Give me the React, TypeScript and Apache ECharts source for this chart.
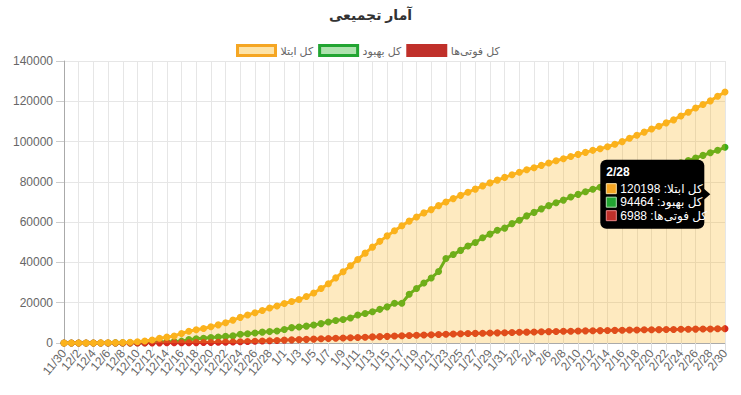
import React, { useEffect, useRef } from "react";
import * as echarts from "echarts";

const categories = [
  "11/30",
  "12/1", "12/2", "12/3", "12/4", "12/5", "12/6", "12/7", "12/8", "12/9", "12/10",
  "12/11", "12/12", "12/13", "12/14", "12/15", "12/16", "12/17", "12/18", "12/19", "12/20",
  "12/21", "12/22", "12/23", "12/24", "12/25", "12/26", "12/27", "12/28", "12/29",
  "1/1", "1/2", "1/3", "1/4", "1/5", "1/6", "1/7", "1/8", "1/9", "1/10",
  "1/11", "1/12", "1/13", "1/14", "1/15", "1/16", "1/17", "1/18", "1/19", "1/20",
  "1/21", "1/22", "1/23", "1/24", "1/25", "1/26", "1/27", "1/28", "1/29", "1/30", "1/31",
  "2/1", "2/2", "2/3", "2/4", "2/5", "2/6", "2/7", "2/8", "2/9", "2/10",
  "2/11", "2/12", "2/13", "2/14", "2/15", "2/16", "2/17", "2/18", "2/19", "2/20",
  "2/21", "2/22", "2/23", "2/24", "2/25", "2/26", "2/27", "2/28", "2/29", "2/30",
];

const seriesNames = ["کل ابتلا", "کل بهبود", "کل فوتی\u200cها"];

const totalCases = [
  2, 5, 18, 28, 43, 61, 95, 139, 245, 388, 593,
  978, 1501, 2336, 2922, 3513, 4747, 5823, 6566, 7161, 8042,
  9000, 10075, 11364, 12729, 13938, 14991, 16169, 17361, 18407,
  19644, 20610, 21638, 23049, 24811, 27017, 29406, 32332, 35408, 38309,
  41495, 44605, 47593, 50468, 53183, 55743, 58226, 60500, 62589, 64586,
  66220, 68192, 70029, 71686, 73303, 74877, 76389, 77995, 79494, 80868, 82211,
  83505, 84802, 85996, 87026, 88194, 89328, 90481, 91472, 92584, 93657,
  94640, 95646, 96448, 97424, 98647, 99970, 101650, 103135, 104691, 106220,
  107603, 109286, 110767, 112725, 114533, 116635, 118392, 120198, 122492, 124603,
];

const totalRecovered = [
  0, 0, 0, 0, 0, 0, 0, 49, 49, 73, 123,
  175, 291, 435, 552, 739, 913, 1669, 2134, 2394, 2731,
  2959, 3276, 3529, 4339, 4590, 4996, 5389, 5710, 5979,
  6745, 7635, 7931, 8376, 8913, 9625, 10457, 11133, 11679, 12391,
  13911, 14656, 15473, 16711, 17935, 19736, 19736, 24236, 27039, 29812,
  32309, 35465, 41947, 43894, 45983, 48129, 49933, 52229, 54064, 55987, 57023,
  59273, 60965, 63113, 64843, 66599, 68193, 69657, 70933, 72439, 73791,
  75103, 76318, 77350, 78422, 79379, 80475, 81587, 82744, 83837, 85064,
  86143, 87422, 88357, 89428, 90539, 91836, 93147, 94464, 95661, 97173,
];

const totalDeaths = [
  2, 2, 4, 5, 8, 12, 16, 19, 26, 34, 43,
  54, 66, 77, 92, 107, 124, 145, 194, 237, 291,
  354, 429, 514, 611, 724, 853, 988, 1135, 1284,
  1433, 1556, 1685, 1812, 1934, 2077, 2234, 2378, 2517, 2640,
  2757, 2898, 3036, 3160, 3294, 3452, 3603, 3739, 3872, 3993,
  4110, 4232, 4357, 4474, 4585, 4683, 4777, 4869, 4958, 5031, 5118,
  5209, 5297, 5391, 5481, 5574, 5650, 5710, 5806, 5877, 5957,
  6028, 6091, 6156, 6203, 6277, 6340, 6418, 6486, 6541, 6589,
  6640, 6685, 6733, 6783, 6854, 6902, 6937, 6988, 7057, 7119,
];

const yTicks = { min: 0, max: 140000, interval: 20000 };
const tooltipIndex = 88;

const FONT = "'Liberation Sans', Arial, 'DejaVu Sans', sans-serif";

export default function App() {
  const ref = useRef<HTMLDivElement>(null);

  useEffect(() => {
    document.body.style.margin = "0";
    if (!ref.current) return;
    const chart = echarts.init(ref.current, null, { renderer: "svg" });
    const option: any = {
      animation: false,
      backgroundColor: "#ffffff",
      title: {
        text: "آمار تجمیعی",
        left: "center",
        top: 3,
        textStyle: { fontFamily: FONT, fontSize: 14, fontWeight: "bold", color: "#333" },
      },
      legend: {
        top: 39,
        left: 231,
        icon: "rect",
        itemWidth: 38,
        itemHeight: 10,
        itemGap: 5,
        textStyle: { fontFamily: FONT, fontSize: 11, color: "#666" },
        data: [
          { name: seriesNames[0], itemStyle: { color: "#fde3a7", borderColor: "#f5a623", borderWidth: 3 } },
          { name: seriesNames[1], itemStyle: { color: "#aee2ae", borderColor: "#22a532", borderWidth: 3 } },
          { name: seriesNames[2], itemStyle: { color: "#c0302a", borderColor: "#c0302a", borderWidth: 3 } },
        ],
      },
      grid: { left: 64, right: 16, top: 61, bottom: 52 },
      xAxis: {
        type: "category",
        boundaryGap: false,
        data: categories,
        axisLine: { lineStyle: { color: "#aaa" } },
        axisTick: { show: true, interval: 1, length: 8, lineStyle: { color: "#ddd" } },
        axisLabel: {
          interval: 0,
          rotate: 50,
          color: "#666",
          fontSize: 12,
          lineHeight: 10,
          fontFamily: FONT,
          margin: 8,
          showMinLabel: true,
          showMaxLabel: true,
          formatter: (v: string, i: number) => (i % 2 === 0 ? v : ""),
        },
        splitLine: { show: true, interval: 1, lineStyle: { color: "#e6e6e6" } },
      },
      yAxis: {
        type: "value",
        min: yTicks.min,
        max: yTicks.max,
        interval: yTicks.interval,
        axisLine: { show: true, lineStyle: { color: "#aaa" } },
        axisTick: { show: true, length: 8, lineStyle: { color: "#ccc" } },
        axisLabel: {
          color: "#666",
          fontSize: 12,
          fontFamily: FONT,
          margin: 11,
          formatter: (v: number) => String(v),
        },
        splitLine: { lineStyle: { color: "#e6e6e6" } },
      },
      series: [
        {
          name: seriesNames[1],
          type: "line",
          data: totalRecovered,
          z: 2,
          symbol: "circle",
          symbolSize: 7,
          lineStyle: { width: 3, color: "#3cae1c" },
          itemStyle: { color: "#3cae1c" },
        },
        {
          name: seriesNames[2],
          type: "line",
          data: totalDeaths,
          z: 2,
          symbol: "circle",
          symbolSize: 7,
          lineStyle: { width: 3, color: "#d62a1f" },
          itemStyle: { color: "#d62a1f" },
        },
        {
          name: seriesNames[0],
          type: "line",
          data: totalCases,
          z: 3,
          symbol: "circle",
          symbolSize: 7,
          lineStyle: { width: 3, color: "#fbb21c" },
          itemStyle: { color: "#fbb21c" },
          areaStyle: { color: "rgba(253,178,20,0.38)", origin: "start" },
        },
      ],
    };
    chart.setOption(option);

    const avg = (totalCases[tooltipIndex] + totalRecovered[tooltipIndex] + totalDeaths[tooltipIndex]) / 3;
    const pt = chart.convertToPixel({ xAxisIndex: 0, yAxisIndex: 0 }, [tooltipIndex, avg]) as number[];
    if (pt) {
      const w = 104;
      const h = 69;
      const tipX = pt[0];
      const cy = pt[1];
      const bx = tipX - 6 - w;
      const by = cy - h / 2;
      const Z = 100;
      const rows = [
        { label: seriesNames[0], value: totalCases[tooltipIndex], fill: "#f5a623", stroke: "#fde3a7" },
        { label: seriesNames[1], value: totalRecovered[tooltipIndex], fill: "#22a532", stroke: "#aee2ae" },
        { label: seriesNames[2], value: totalDeaths[tooltipIndex], fill: "#c0302a", stroke: "#e88" },
      ];
      const elements: any[] = [
        { type: "rect", z: Z, shape: { x: bx, y: by, width: w, height: h, r: 6 }, style: { fill: "#000" } },
        {
          type: "polygon",
          z: Z,
          shape: { points: [[bx + w - 1, cy - 6], [tipX, cy], [bx + w - 1, cy + 6]] },
          style: { fill: "#000" },
        },
        {
          type: "text",
          z: Z + 1,
          style: {
            text: categories[tooltipIndex],
            x: bx + 6,
            y: by + 12,
            fill: "#fff",
            font: `bold 12px ${FONT}`,
            align: "left",
            verticalAlign: "middle",
          },
        },
      ];
      rows.forEach((r, i) => {
        const ry = by + 29 + i * 13.5;
        elements.push({
          type: "rect",
          z: Z + 1,
          shape: { x: bx + 6, y: ry - 5, width: 10, height: 10 },
          style: { fill: r.fill, stroke: r.stroke, lineWidth: 1 },
        });
        elements.push({
          type: "text",
          z: Z + 1,
          style: {
            text: `\u202B${r.label}: ${r.value}\u202C`,
            x: bx + 20,
            y: ry,
            fill: "#fff",
            font: `12px ${FONT}`,
            align: "left",
            verticalAlign: "middle",
          },
        });
      });
      chart.setOption({ graphic: elements });
    }

    return () => chart.dispose();
  }, []);

  return <div ref={ref} style={{ width: 741, height: 395 }} />;
}
